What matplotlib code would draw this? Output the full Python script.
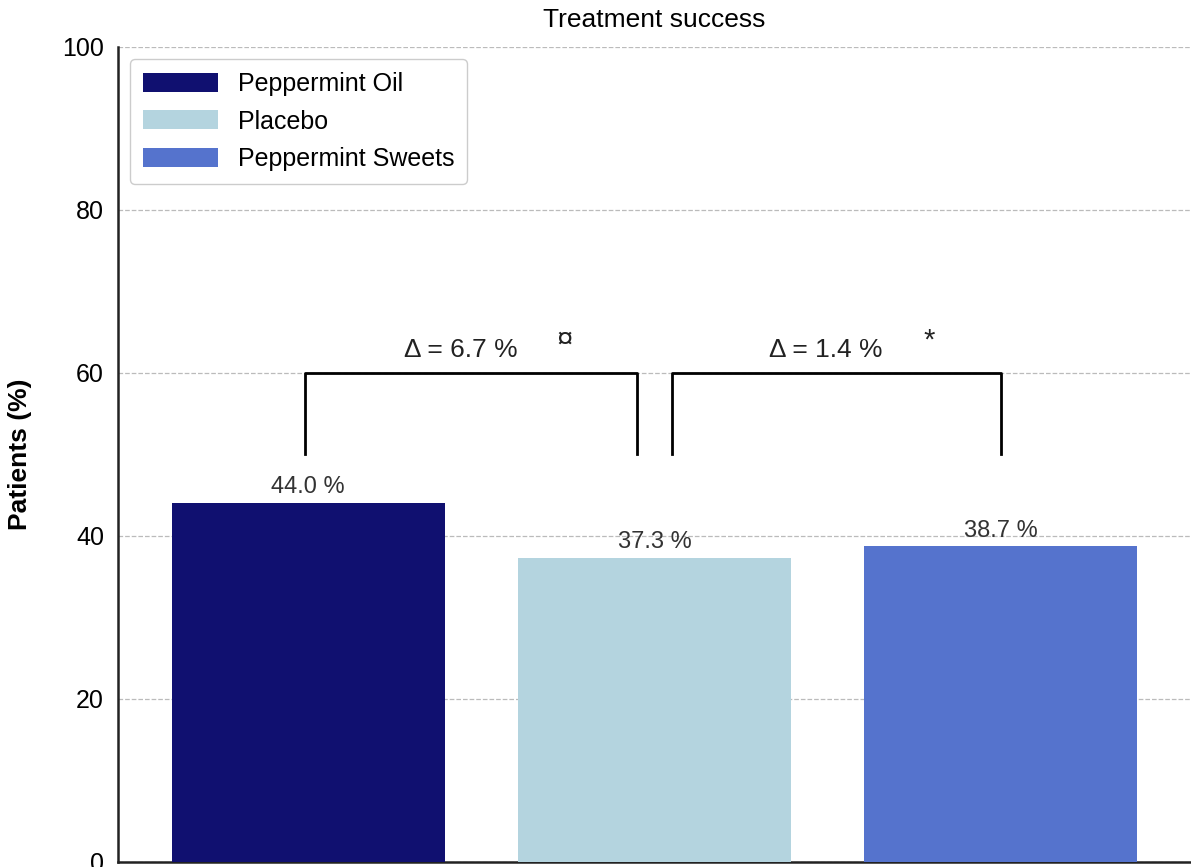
import matplotlib
matplotlib.use("Agg")
from matplotlib import pyplot as plt
import seaborn as sns
import numpy as np

groups = ["Peppermint Oil", "Placebo", "Peppermint Sweets"]
success = [44.0, 37.3, 38.7]
colors = ["navy", "lightblue", "royalblue"]
deltas = ["6.7", "1.4"]
marks = ["¤", "*"]

plt.rcParams["font.family"] = ["Liberation Sans", "DejaVu Sans"]

fig = plt.figure(figsize=(11.91, 8.67), dpi=100)
ax = fig.add_axes([0.099, 0.006, 0.901, 0.94])
x = np.arange(len(groups))
for i in range(len(groups)):
    ax.bar(x[i], success[i], width=0.79, color=sns.desaturate(colors[i], 0.75),
           label=groups[i], zorder=3)
    ax.text(x[i], success[i] + 0.6, f"{success[i]:.1f} %", ha="center", va="bottom",
            fontsize=17, color="#333333", zorder=4)

# comparison brackets
for k, (a, b) in enumerate([(0, 1), (1, 2)]):
    xl = x[a] - 0.01 if k == 0 else x[a] + 0.05
    xr = x[b] - 0.05 if k == 0 else x[b]
    ax.plot([xl, xl, xr, xr], [50, 60, 60, 50], color="black", lw=2, zorder=4)
    xm = (xl + xr) / 2
    ax.text(xm - 0.03, 61.3, f"Δ = {deltas[k]} %", ha="center", va="bottom", fontsize=19, color="#222222")
    ax.text(xm + 0.27, 62.3, marks[k], ha="center", va="bottom", fontsize=21, color="#222222")

ax.set_xlim(-0.55, 2.55)
ax.set_ylim(0, 100)
ax.set_yticks([0, 20, 40, 60, 80, 100])
ax.set_xticks([])
ax.tick_params(axis="y", labelsize=18, length=0, pad=10)
ax.yaxis.grid(True, linestyle="--", color="#bbbbbb", lw=0.9, zorder=0)
ax.set_ylabel("Patients (%)", fontsize=19, fontweight="bold", labelpad=22)
ax.set_title("Treatment success", fontsize=19, pad=14)
for s in ["top", "right"]:
    ax.spines[s].set_visible(False)
for s in ["left", "bottom"]:
    ax.spines[s].set_linewidth(1.8)
    ax.spines[s].set_color("#222222")
ax.legend(loc="upper left", fontsize=18, handlelength=3, handleheight=0.8,
          borderpad=0.5, labelspacing=0.55, framealpha=1, edgecolor="#cccccc")

fig.savefig("out.png", dpi=100)
